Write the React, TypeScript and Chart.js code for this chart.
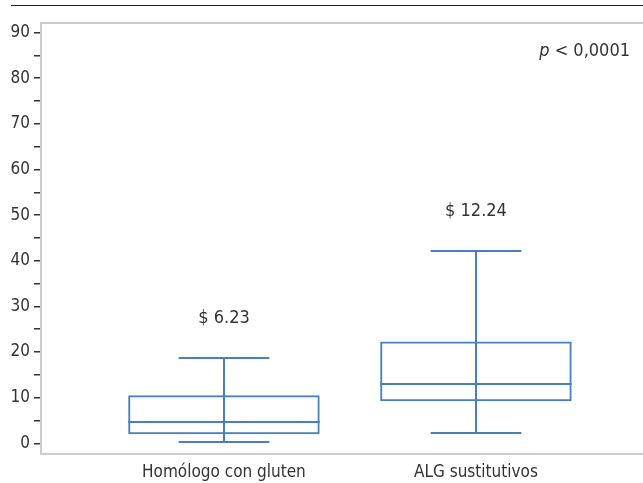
import React, { useEffect, useRef } from 'react';
import { Chart, registerables } from 'chart.js';

Chart.register(...registerables);

const categories = ['Homólogo con gluten', 'ALG sustitutivos'];
const whiskerLow = [0.2, 2.2];
const q1 = [2.0, 9.2];
const median = [4.6, 12.9];
const q3 = [10.5, 22.3];
const whiskerHigh = [18.6, 42.1];
const priceLabels = ['$ 6.23', '$ 12.24'];
const yTicks = [0, 5, 10, 15, 20, 25, 30, 35, 40, 45, 50, 55, 60, 65, 70, 75, 80, 85, 90];
const pSymbol = 'p';
const pRest = ' < 0,0001';

const BLUE = '#4a7fbd';
const TEXT = '#333333';
const AXIS = '#cccccc';
const FONT = '"Liberation Sans Narrow", "DejaVu Sans Condensed", "Liberation Sans", Arial, sans-serif';
const CAP_HALF = 0.18;

const boxPlugin = {
  id: 'boxExtras',
  afterDatasetsDraw(chart: any) {
    const { ctx, scales } = chart;
    const xs = scales.x;
    const ys = scales.y;
    const meta = chart.getDatasetMeta(0);
    ctx.save();
    ctx.strokeStyle = BLUE;
    ctx.lineWidth = 2;
    categories.forEach((_, i) => {
      const cx = Math.round(xs.getPixelForValue(i + 1));
      const capHalf = xs.getPixelForValue(i + 1 + CAP_HALF) - xs.getPixelForValue(i + 1);
      const bar = meta.data[i];
      const boxHalf = bar ? bar.width / 2 : 95;
      const yLow = Math.round(ys.getPixelForValue(whiskerLow[i]));
      const yHigh = Math.round(ys.getPixelForValue(whiskerHigh[i]));
      const yMed = Math.round(ys.getPixelForValue(median[i]));
      ctx.beginPath();
      ctx.moveTo(cx, yLow);
      ctx.lineTo(cx, yHigh);
      ctx.moveTo(cx - capHalf, yHigh);
      ctx.lineTo(cx + capHalf, yHigh);
      ctx.moveTo(cx - capHalf, yLow);
      ctx.lineTo(cx + capHalf, yLow);
      ctx.moveTo(cx - boxHalf, yMed);
      ctx.lineTo(cx + boxHalf, yMed);
      ctx.stroke();

      ctx.fillStyle = TEXT;
      ctx.font = `18px ${FONT}`;
      ctx.textAlign = 'center';
      ctx.textBaseline = 'middle';
      ctx.fillText(priceLabels[i], cx, yHigh - 40);
    });
    ctx.restore();
  },
  afterDraw(chart: any) {
    const { ctx, chartArea } = chart;
    ctx.save();
    ctx.strokeStyle = AXIS;
    ctx.lineWidth = 2;
    ctx.beginPath();
    ctx.moveTo(chartArea.left - 1, chartArea.top);
    ctx.lineTo(chartArea.right, chartArea.top);
    ctx.stroke();
    ctx.strokeStyle = '#222';
    ctx.lineWidth = 1;
    ctx.beginPath();
    ctx.moveTo(11, 5.5);
    ctx.lineTo(chart.width, 5.5);
    ctx.stroke();
    ctx.fillStyle = TEXT;
    ctx.textBaseline = 'middle';
    ctx.textAlign = 'left';
    ctx.font = `18px ${FONT}`;
    const restW = ctx.measureText(pRest).width;
    ctx.font = `italic 18px ${FONT}`;
    const pW = ctx.measureText(pSymbol).width;
    const right = chartArea.right - 13;
    const y = chartArea.top + 28;
    ctx.fillText(pSymbol, right - restW - pW, y);
    ctx.font = `18px ${FONT}`;
    ctx.fillText(pRest, right - restW, y);
    ctx.restore();
  },
};

export default function App() {
  const ref = useRef<HTMLCanvasElement>(null);
  useEffect(() => {
    if (!ref.current) return;
    const chart = new Chart(ref.current, {
      type: 'bar',
      data: {
        datasets: [
          {
            data: categories.map((_, i) => ({ x: i + 1, y: [q1[i], q3[i]] })) as any,
            backgroundColor: 'rgba(0,0,0,0)',
            borderColor: BLUE,
            borderWidth: 2,
            borderSkipped: false,
            categoryPercentage: 1,
            barPercentage: 0.76,
          },
        ],
      },
      options: {
        animation: false,
        responsive: false,
        maintainAspectRatio: false,
        devicePixelRatio: 1,
        layout: { padding: { top: 23, left: 0, right: 0, bottom: 0 } },
        plugins: { legend: { display: false }, tooltip: { enabled: false } },
        scales: {
          x: {
            type: 'linear',
            offset: false,
            min: 0.274,
            max: 2.663,
            afterBuildTicks: (s: any) => {
              s.ticks = categories.map((_, i) => ({ value: i + 1 }));
            },
            afterFit: (s: any) => {
              s.height = 29;
            },
            ticks: {
              callback: (v: any) => categories[Number(v) - 1] ?? '',
              font: { family: FONT, size: 17 },
              color: TEXT,
              padding: 8,
              maxRotation: 0,
              autoSkip: false,
            },
            grid: { display: false, drawTicks: false },
            border: { display: true, color: AXIS, width: 2 },
          },
          y: {
            type: 'linear',
            min: -2.35,
            max: 92.1,
            afterBuildTicks: (s: any) => {
              s.ticks = yTicks.map((v) => ({ value: v }));
            },
            afterFit: (s: any) => {
              s.width = 41;
            },
            ticks: {
              callback: (v: any) => (Number(v) % 10 === 0 ? String(v) : ''),
              font: { family: FONT, size: 17 },
              color: TEXT,
              padding: 4,
              autoSkip: false,
            },
            grid: { drawOnChartArea: false, drawTicks: true, tickLength: 7, color: '#333', lineWidth: 1.5 },
            border: { display: true, color: AXIS, width: 2 },
          },
        },
      },
      plugins: [boxPlugin],
    });
    return () => chart.destroy();
  }, []);
  return (
    <div style={{ position: 'absolute', left: 0, top: 0, width: 643, height: 483, background: '#fff' }}>
      <canvas ref={ref} width={643} height={483} style={{ display: 'block' }} />
    </div>
  );
}
